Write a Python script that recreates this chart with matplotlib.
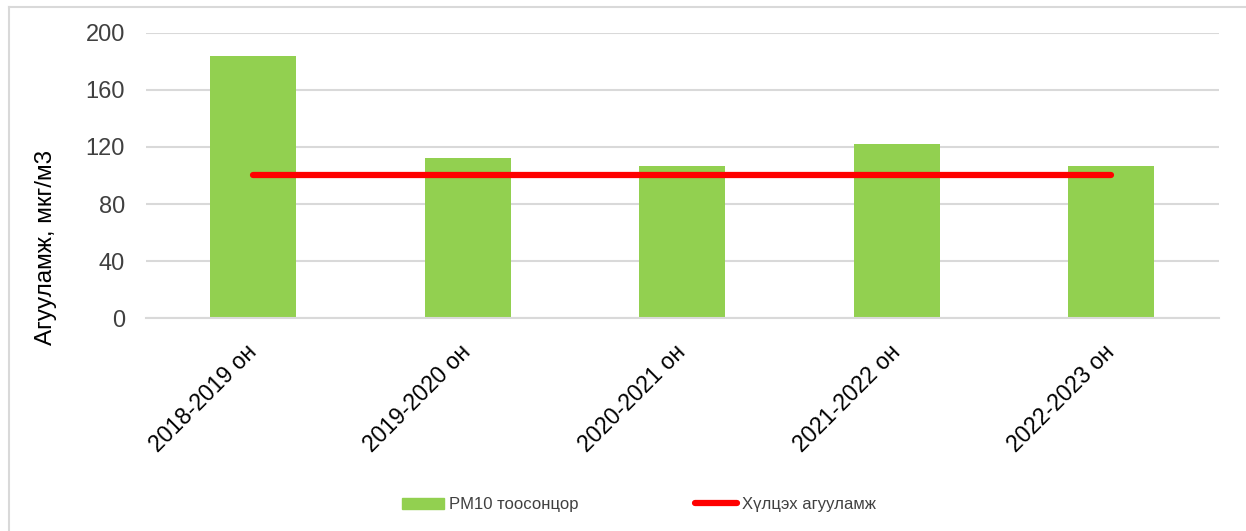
import numpy as np
import matplotlib
matplotlib.use("Agg")
import matplotlib.pyplot as plt
from matplotlib.lines import Line2D

plt.rcParams['font.family'] = ['Liberation Sans', 'DejaVu Sans']

# data
seasons = ['2018-2019 он', '2019-2020 он', '2020-2021 он', '2021-2022 он', '2022-2023 он']
pm10 = [184, 112, 107, 122, 107]
limit = [100, 100, 100, 100, 100]
yticks = [0, 40, 80, 120, 160, 200]

bar_label = 'PM10 тоосонцор'
line_label = 'Хүлцэх агууламж'
ylabel = 'Агууламж, мкг/м3'

fig = plt.figure(figsize=(12.46, 5.31), dpi=100)
ax = fig.add_axes([0.117, 0.401, 0.861, 0.537])

x = np.arange(len(seasons))
ax.bar(x, pm10, width=0.4, color='#92d050', zorder=2, label=bar_label)
ax.plot(x, limit, color='#ff0000', linewidth=4.5, solid_capstyle='round', zorder=3, label=line_label)

ax.set_xlim(-0.5, len(seasons) - 0.5)
ax.set_ylim(0, 200)
ax.set_yticks(yticks)
ax.yaxis.grid(True, color='#d9d9d9', linewidth=1.5, zorder=0)
ax.set_axisbelow(True)
for s in ['top', 'right', 'left']:
    ax.spines[s].set_visible(False)
ax.spines['bottom'].set_color('#d9d9d9')
ax.spines['bottom'].set_linewidth(1.5)
ax.tick_params(axis='both', length=0)
ax.tick_params(axis='y', labelsize=17, labelcolor='#404040', pad=15)

ax.set_xticks(x)
ax.set_xticklabels(seasons, rotation=45, ha='right', va='center', rotation_mode='anchor', fontsize=16.5, color='#000000')
ax.tick_params(axis='x', pad=22)

ax.set_ylabel(ylabel, fontsize=17.5, color='#000000')
ax.yaxis.set_label_coords(-0.083, 0.246)

handles = [plt.Rectangle((0, 0), 1, 1, color='#92d050'),
           Line2D([0], [0], color='#ff0000', linewidth=4.5, solid_capstyle='round')]
fig.legend(handles, [bar_label, line_label], loc='center', bbox_to_anchor=(0.513, 0.05),
           ncol=2, frameon=False, fontsize=12, handlelength=2.5, handleheight=0.65,
           handletextpad=0.3, columnspacing=7.0, labelcolor='#404040')

# outer chart border (top and left visible in the reference)
fig.add_artist(Line2D([9 / 1246, 1], [1 - 7 / 531, 1 - 7 / 531], color='#d9d9d9', linewidth=1.5))
fig.add_artist(Line2D([9 / 1246, 9 / 1246], [0, 1 - 7 / 531], color='#d9d9d9', linewidth=1.5))

fig.savefig('out.png', dpi=100)
